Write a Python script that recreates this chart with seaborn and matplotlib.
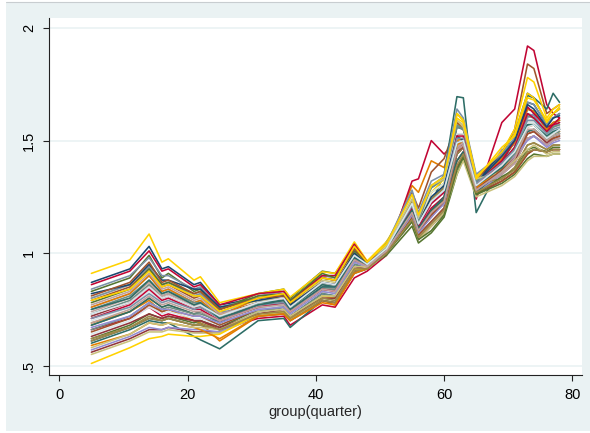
import matplotlib
matplotlib.use("Agg")
import matplotlib.pyplot as plt
from matplotlib.patches import Rectangle
from matplotlib.lines import Line2D
import pandas as pd
import seaborn as sns

QUARTERS = [5, 11, 14, 16, 17, 21, 22, 25, 31, 35, 36, 41, 43, 46, 48,
            51, 55, 56, 58, 60, 62, 63, 65, 69, 71, 73, 74, 76, 77, 78]

S00 = [.87, .93, 1.03, .93, .94, .86, .87, .77, .80, .82, .78, .89, .88, 1.02, .96,
       1.03, 1.23, 1.14, 1.24, 1.29, 1.56, 1.55, 1.32, 1.44, 1.51, 1.67, 1.66, 1.57, 1.60, 1.62]
S01 = [.72, .78, .85, .80, .81, .76, .76, .71, .77, .78, .75, .85, .84, .98, .95,
       1.01, 1.17, 1.09, 1.17, 1.22, 1.44, 1.47, 1.28, 1.35, 1.40, 1.51, 1.52, 1.48, 1.50, 1.51]
S02 = [.83, .89, .99, .89, .91, .83, .84, .75, .82, .84, .80, .92, .91, 1.03, .96,
       1.00, 1.16, 1.08, 1.14, 1.20, 1.44, 1.47, 1.28, 1.39, 1.45, 1.58, 1.58, 1.52, 1.54, 1.55]
S03 = [.69, .74, .79, .74, .75, .70, .69, .61, .72, .74, .71, .79, .77, .92, .93,
       1.02, 1.30, 1.27, 1.41, 1.38, 1.58, 1.55, 1.32, 1.42, 1.49, 1.64, 1.63, 1.55, 1.58, 1.59]
S04 = [.73, .79, .86, .81, .82, .77, .77, .72, .78, .79, .76, .86, .85, .99, .95,
       1.04, 1.26, 1.17, 1.29, 1.33, 1.62, 1.59, 1.34, 1.42, 1.49, 1.64, 1.63, 1.55, 1.58, 1.59]
S05 = [.66, .71, .76, .72, .73, .70, .70, .66, .71, .72, .68, .77, .76, .89, .92,
       .99, 1.32, 1.33, 1.50, 1.44, 1.50, 1.47, 1.24, 1.58, 1.64, 1.92, 1.90, 1.66, 1.62, 1.60]
S06 = [.76, .82, .90, .83, .84, .78, .79, .72, .81, .83, .79, .90, .90, 1.04, .96,
       1.01, 1.19, 1.11, 1.19, 1.24, 1.47, 1.49, 1.29, 1.46, 1.48, 1.60, 1.62, 1.52, 1.54, 1.55]
S07 = [.80, .86, .94, .86, .87, .81, .82, .74, .79, .80, .77, .88, .87, 1.01, .95,
       1.03, 1.25, 1.15, 1.27, 1.31, 1.59, 1.57, 1.33, 1.40, 1.47, 1.61, 1.60, 1.53, 1.56, 1.57]
S08 = [.79, .85, .93, .85, .86, .80, .81, .73, .78, .80, .77, .87, .86, 1.00, .95,
       1.03, 1.27, 1.20, 1.36, 1.42, 1.58, 1.56, 1.33, 1.44, 1.55, 1.84, 1.82, 1.62, 1.64, 1.66]
S09 = [.84, .90, .98, .90, .90, .84, .85, .76, .80, .81, .78, .90, .89, 1.02, .96,
       1.02, 1.21, 1.12, 1.22, 1.27, 1.50, 1.51, 1.30, 1.41, 1.46, 1.62, 1.61, 1.54, 1.56, 1.58]
S10 = [.60, .66, .70, .69, .69, .63, .615, .575, .70, .71, .67, .79, .78, .91, .93,
       1.05, 1.20, 1.12, 1.22, 1.35, 1.695, 1.69, 1.18, 1.40, 1.50, 1.70, 1.69, 1.64, 1.71, 1.67]
S11 = [.68, .74, .80, .76, .77, .73, .74, .69, .76, .78, .74, .84, .84, .97, .94,
       1.03, 1.23, 1.14, 1.24, 1.29, 1.44, 1.47, 1.28, 1.33, 1.38, 1.48, 1.49, 1.46, 1.48, 1.48]
S12 = [.74, .80, .87, .81, .82, .77, .78, .72, .78, .79, .76, .86, .85, .99, .95,
       1.02, 1.21, 1.12, 1.22, 1.27, 1.47, 1.49, 1.29, 1.37, 1.42, 1.54, 1.55, 1.50, 1.52, 1.53]
S13 = [.91, .97, 1.085, .96, .975, .88, .895, .78, .82, .84, .805, .917, .91, 1.05, .965,
       1.05, 1.24, 1.15, 1.27, 1.33, 1.62, 1.59, 1.34, 1.45, 1.55, 1.78, 1.76, 1.60, 1.64, 1.66]
S14 = [.64, .70, .76, .73, .74, .71, .71, .68, .77, .78, .75, .85, .84, .98, .95,
       1.02, 1.21, 1.12, 1.22, 1.27, 1.50, 1.51, 1.30, 1.39, 1.45, 1.58, 1.58, 1.52, 1.54, 1.55]
S15 = [.61, .67, .71, .70, .71, .68, .68, .66, .74, .76, .72, .82, .81, .95, .94,
       1.01, 1.17, 1.09, 1.17, 1.22, 1.53, 1.53, 1.31, 1.45, 1.53, 1.71, 1.69, 1.58, 1.62, 1.64]
S16 = [.56, .62, .66, .66, .67, .65, .65, .65, .72, .73, .70, .79, .78, .92, .93,
       1.00, 1.14, 1.06, 1.12, 1.18, 1.38, 1.43, 1.26, 1.32, 1.36, 1.44, 1.46, 1.45, 1.46, 1.46]
S17 = [.62, .68, .73, .71, .72, .69, .70, .67, .75, .77, .74, .83, .83, .96, .94,
       .99, 1.12, 1.045, 1.09, 1.16, 1.35, 1.42, 1.26, 1.31, 1.35, 1.42, 1.44, 1.43, 1.44, 1.44]
S18 = [.76, .82, .90, .83, .84, .78, .79, .72, .80, .82, .78, .89, .88, 1.02, .96,
       1.01, 1.19, 1.11, 1.19, 1.24, 1.50, 1.51, 1.30, 1.42, 1.49, 1.64, 1.63, 1.55, 1.58, 1.59]
S19 = [.75, .81, .88, .82, .83, .78, .78, .72, .74, .76, .72, .82, .81, .95, .94,
       1.04, 1.26, 1.17, 1.29, 1.33, 1.56, 1.55, 1.32, 1.40, 1.47, 1.61, 1.60, 1.53, 1.56, 1.57]
S20 = [.86, .92, 1.01, .92, .93, .85, .86, .77, .82, .83, .79, .90, .90, 1.04, .96,
       1.02, 1.21, 1.12, 1.22, 1.27, 1.53, 1.53, 1.31, 1.41, 1.50, 1.65, 1.62, 1.56, 1.57, 1.60]
S21 = [.57, .63, .67, .66, .67, .66, .66, .65, .73, .74, .71, .81, .80, .93, .93,
       1.00, 1.16, 1.08, 1.14, 1.20, 1.41, 1.45, 1.27, 1.35, 1.40, 1.51, 1.52, 1.48, 1.50, 1.51]
S22 = [.55, .61, .65, .65, .66, .645, .645, .645, .72, .74, .70, .80, .79, .93, .93,
       1.00, 1.14, 1.06, 1.12, 1.18, 1.35, 1.41, 1.25, 1.30, 1.34, 1.41, 1.43, 1.43, 1.44, 1.44]
S23 = [.65, .71, .77, .74, .75, .72, .72, .68, .75, .77, .74, .83, .83, .96, .94,
       1.00, 1.16, 1.08, 1.14, 1.20, 1.41, 1.45, 1.27, 1.32, 1.36, 1.44, 1.46, 1.45, 1.46, 1.46]
S24 = [.80, .86, .94, .86, .87, .81, .82, .74, .75, .77, .74, .83, .83, .96, .94,
       1.04, 1.28, 1.18, 1.32, 1.35, 1.64, 1.60, 1.35, 1.44, 1.51, 1.67, 1.66, 1.57, 1.60, 1.62]
S25 = [.68, .74, .80, .76, .77, .73, .74, .69, .78, .79, .76, .86, .85, .99, .95,
       1.01, 1.19, 1.11, 1.19, 1.24, 1.41, 1.45, 1.27, 1.37, 1.42, 1.54, 1.55, 1.50, 1.52, 1.53]
S26 = [.61, .67, .71, .70, .71, .68, .68, .66, .72, .73, .70, .79, .78, .92, .93,
       1.03, 1.23, 1.14, 1.24, 1.29, 1.53, 1.53, 1.31, 1.33, 1.38, 1.48, 1.49, 1.46, 1.48, 1.48]
S27 = [.77, .83, .91, .84, .85, .79, .80, .73, .77, .78, .75, .85, .84, .98, .95,
       1.01, 1.17, 1.09, 1.17, 1.22, 1.47, 1.49, 1.29, 1.35, 1.40, 1.51, 1.52, 1.48, 1.50, 1.51]
S28 = [.51, .58, .62, .63, .64, .63, .63, .64, .73, .74, .71, .81, .80, .93, .93,
       1.03, 1.25, 1.15, 1.27, 1.31, 1.62, 1.59, 1.34, 1.45, 1.53, 1.71, 1.69, 1.58, 1.62, 1.64]
S29 = [.70, .76, .83, .78, .79, .75, .75, .70, .75, .77, .74, .83, .83, .96, .94,
       1.03, 1.25, 1.15, 1.27, 1.31, 1.53, 1.53, 1.31, 1.39, 1.45, 1.58, 1.58, 1.52, 1.54, 1.55]
S30 = [.82, .86, .95, .88, .88, .84, .84, .76, .79, .81, .77, .87, .86, 1.00, .95,
       1.02, 1.20, 1.13, 1.25, 1.30, 1.52, 1.50, 1.31, 1.43, 1.50, 1.66, 1.64, 1.56, 1.60, 1.61]
S31 = [.63, .69, .73, .71, .72, .70, .70, .67, .73, .75, .72, .80, .80, .94, .93,
       1.01, 1.18, 1.10, 1.16, 1.23, 1.46, 1.48, 1.29, 1.36, 1.41, 1.53, 1.54, 1.49, 1.51, 1.52]
S32 = [.78, .84, .93, .86, .87, .82, .83, .75, .81, .82, .79, .91, .89, 1.01, .96,
       1.00, 1.14, 1.06, 1.10, 1.17, 1.37, 1.43, 1.26, 1.34, 1.37, 1.46, 1.47, 1.45, 1.47, 1.47]
S33 = [.59, .64, .69, .68, .69, .67, .66, .62, .72, .73, .70, .78, .77, .91, .93,
       1.02, 1.18, 1.10, 1.18, 1.23, 1.48, 1.50, 1.29, 1.38, 1.43, 1.56, 1.57, 1.51, 1.53, 1.54]
S34 = [.66, .72, .78, .75, .76, .73, .73, .70, .76, .78, .75, .84, .84, .97, .95,
       1.02, 1.22, 1.14, 1.30, 1.34, 1.57, 1.55, 1.32, 1.38, 1.44, 1.57, 1.57, 1.51, 1.53, 1.54]
S35 = [.71, .77, .84, .79, .80, .75, .75, .70, .76, .78, .74, .84, .83, .97, .94,
       1.01, 1.20, 1.11, 1.20, 1.25, 1.52, 1.52, 1.30, 1.40, 1.47, 1.62, 1.60, 1.54, 1.57, 1.58]
S36 = [.67, .72, .78, .75, .75, .72, .72, .69, .75, .76, .73, .83, .82, .96, .94,
       1.01, 1.17, 1.09, 1.16, 1.22, 1.45, 1.47, 1.28, 1.36, 1.43, 1.50, 1.52, 1.47, 1.49, 1.50]
S37 = [.58, .64, .69, .68, .69, .67, .67, .66, .74, .75, .72, .81, .81, .94, .94,
       1.03, 1.24, 1.16, 1.30, 1.33, 1.59, 1.56, 1.33, 1.36, 1.41, 1.46, 1.48, 1.44, 1.45, 1.45]
S38 = [.81, .87, .96, .87, .88, .82, .83, .75, .80, .81, .78, .89, .88, 1.02, .96,
       1.01, 1.18, 1.10, 1.17, 1.23, 1.45, 1.47, 1.28, 1.37, 1.42, 1.53, 1.54, 1.50, 1.51, 1.52]
S39 = [.71, .76, .82, .78, .79, .75, .76, .71, .77, .78, .75, .85, .85, .98, .95,
       1.02, 1.21, 1.13, 1.23, 1.28, 1.51, 1.51, 1.31, 1.40, 1.46, 1.59, 1.59, 1.53, 1.55, 1.56]
S40 = [.75, .80, .88, .82, .83, .77, .78, .71, .77, .79, .75, .85, .85, .98, .95,
       1.02, 1.19, 1.11, 1.19, 1.25, 1.49, 1.50, 1.30, 1.38, 1.45, 1.57, 1.57, 1.52, 1.54, 1.55]
S41 = [.62, .67, .72, .70, .71, .68, .69, .66, .73, .74, .71, .80, .79, .93, .93,
       1.00, 1.15, 1.07, 1.13, 1.19, 1.39, 1.44, 1.27, 1.33, 1.37, 1.45, 1.46, 1.45, 1.46, 1.46]
S42 = [.69, .75, .81, .77, .78, .74, .74, .70, .76, .77, .74, .84, .83, .97, .94,
       1.01, 1.18, 1.10, 1.18, 1.23, 1.46, 1.48, 1.28, 1.36, 1.42, 1.55, 1.55, 1.50, 1.52, 1.53]
S43 = [.79, .84, .92, .85, .86, .81, .81, .74, .80, .82, .78, .89, .88, 1.03, .96,
       1.04, 1.26, 1.17, 1.30, 1.34, 1.60, 1.58, 1.33, 1.47, 1.52, 1.69, 1.68, 1.59, 1.62, 1.65]
S44 = [.73, .78, .85, .80, .81, .76, .77, .72, .78, .80, .76, .87, .86, .99, .95,
       1.02, 1.22, 1.13, 1.23, 1.28, 1.49, 1.50, 1.30, 1.39, 1.45, 1.56, 1.57, 1.51, 1.53, 1.55]

SERIES = [S00, S01, S02, S03, S04, S05, S06, S07, S08, S09, S10, S11, S12, S13, S14,
          S15, S16, S17, S18, S19, S20, S21, S22, S23, S24, S25, S26, S27, S28, S29,
          S30, S31, S32, S33, S34, S35, S36, S37, S38, S39, S40, S41, S42, S43, S44]

X_TICKS = [0, 20, 40, 60, 80]
Y_TICKS = [0.5, 1, 1.5, 2]
Y_LABELS = ['.5', '1', '1.5', '2']

# Stata s2color pen order
STATA = ['#1a476f', '#90353b', '#55752f', '#e37e00', '#6e8e84', '#c10534', '#938dd2',
         '#cac27e', '#a0522d', '#7b92a8', '#2d6d66', '#9c8847', '#bfa19c', '#ffd200', '#d9e6eb']
BG = '#eaf2f3'

sns.set_theme(style="white")
plt.rcParams['font.family'] = ['Liberation Sans', 'DejaVu Sans']

rows = []
for i, s in enumerate(SERIES):
    for q, v in zip(QUARTERS, s):
        rows.append((f"s{i:02d}", q, v))
df = pd.DataFrame(rows, columns=['id', 'quarter', 'value'])
ids = [f"s{i:02d}" for i in range(len(SERIES))]
pal = {k: STATA[i % len(STATA)] for i, k in enumerate(ids)}

fig = plt.figure(figsize=(5.9, 4.33), dpi=100)
fig.patch.set_facecolor('white')
fig.patches.append(Rectangle((6 / 590, 2 / 433), 1 - 6 / 590, 1 - 5 / 433,
                             transform=fig.transFigure, facecolor=BG, edgecolor='none', zorder=-10))
fig.lines.append(Line2D([6 / 590, 1], [1 - 2.3 / 433] * 2, transform=fig.transFigure,
                        color='#c8cdd0', lw=0.8))

ax = fig.add_axes([49.3 / 590, 1 - 375 / 433, (582 - 49.3) / 590, (375 - 18) / 433])
ax.set_facecolor('white')
sns.lineplot(data=df, x='quarter', y='value', hue='id', hue_order=ids, palette=pal,
             estimator=None, legend=False, linewidth=1.15, ax=ax)

ax.set_xlim(-1.56, 81.5)
ax.set_ylim(0.4587, 2.0444)
ax.set_xticks(X_TICKS)
ax.set_yticks(Y_TICKS)
ax.set_yticklabels(Y_LABELS, rotation=90, va='center')
ax.yaxis.grid(True, color=BG, lw=1.2, zorder=0)
ax.xaxis.grid(False)
ax.set_axisbelow(True)
for side in ['top', 'right']:
    ax.spines[side].set_visible(False)
for side in ['left', 'bottom']:
    ax.spines[side].set_color('#222222')
    ax.spines[side].set_linewidth(0.8)
ax.tick_params(axis='both', which='major', direction='out', length=4.5, width=0.8,
               color='#222222', labelsize=10.5, labelcolor='black', left=True, bottom=True)
ax.tick_params(axis='y', pad=5)
ax.tick_params(axis='x', pad=5)
ax.set_xlabel("group(quarter)", fontsize=10.5, labelpad=2)
ax.set_ylabel("")

fig.savefig("out.png", dpi=100, facecolor=fig.get_facecolor())
